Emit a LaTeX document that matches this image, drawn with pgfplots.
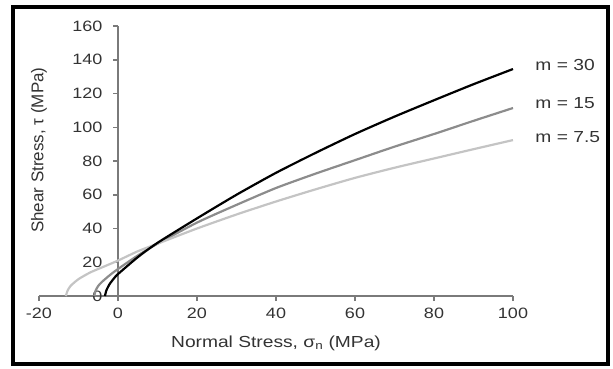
\documentclass[border=0pt]{standalone}
\usepackage{fontspec}
\setmainfont{Liberation Sans}[FakeStretch=1.2]
\newfontfamily\ylabfont{Liberation Sans}
\usepackage{pgfplots}
\pgfplotsset{compat=1.18}
\definecolor{axisgray}{HTML}{7A7A7A}
\definecolor{labelgray}{HTML}{333333}
\definecolor{midgray}{HTML}{8C8C8C}
\definecolor{lightgray}{HTML}{C4C4C4}
\begin{document}
\begin{tikzpicture}
\path[use as bounding box] (0pt,0pt) rectangle (613pt,368pt);
\draw[line width=4pt] (13pt,4pt) rectangle (608pt,361pt);
\begin{axis}[
  at={(39pt,72pt)}, anchor=south west,
  scale only axis, width=474pt, height=270pt,
  xmin=-20, xmax=100, ymin=0, ymax=160,
  axis x line=bottom, axis y line=center,
  hide obscured x ticks=false, hide obscured y ticks=false,
  axis line style={-, draw=axisgray, line width=1.6pt},
  xtick style={draw=axisgray, line width=1.5pt},
  ytick style={draw=axisgray, line width=1.5pt},
  tick align=outside, major tick length=5pt,
  xtick={-20,0,20,40,60,80,100},
  ytick={0,20,40,60,80,100,120,140,160},
  /pgf/number format/assume math mode=true,
  ticklabel style={font=\fontsize{15}{15}\selectfont, text=labelgray},
  xticklabel style={anchor=north, yshift=-3pt},
  yticklabel style={anchor=east, xshift=-7pt},
  xlabel={Normal Stress, σ\textsubscript{n} (MPa)},
  xlabel style={at={(axis description cs:0.5,0)}, anchor=center, yshift=-47pt,
    font=\fontsize{16}{16}\selectfont, text=labelgray},
  ylabel={Shear Stress, τ (MPa)},
  ylabel style={at={(axis description cs:0,0.54)}, anchor=center, rotate=90,
    font=\ylabfont\fontsize{17}{17}\selectfont, text=labelgray},
  clip=false,
]
\addplot[midgray, line width=2.2pt, smooth, tension=0.4] coordinates {
  (-6.0,0) (-5.7,3) (-5.0,6) (-4.0,8.5) (-2.0,12.5) (0,16) (5,24) (10,31)
  (20,43.5) (30,54) (40,64) (50,72.5) (60,80.5) (70,88.5) (80,96) (90,103.8) (100,111.4)
};
\addplot[lightgray, line width=2.2pt, smooth, tension=0.4] coordinates {
  (-13.2,0) (-12.8,3) (-12,6) (-10,10) (-7,14) (-4,17) (0,21) (5,26.5) (10,31)
  (20,40) (30,48.3) (40,56) (50,63.2) (60,70) (70,76) (80,81.5) (90,87) (100,92.4)
};
\addplot[black, line width=2.2pt, smooth, tension=0.4] coordinates {
  (-3.3,0) (-3.0,3) (-2.5,5.5) (-2.0,7.5) (-1.0,10.5) (0,13) (5,23) (10,31.5)
  (20,46) (30,60) (40,73) (50,84.8) (60,96) (70,106.3) (80,116) (90,125.5) (100,134.5)
};
\node[anchor=west, text=labelgray, font=\fontsize{16}{16}\selectfont] at (axis cs:104.8,136.9) {m = 30};
\node[anchor=west, text=labelgray, font=\fontsize{16}{16}\selectfont] at (axis cs:104.8,114.4) {m = 15};
\node[anchor=west, text=labelgray, font=\fontsize{16}{16}\selectfont] at (axis cs:104.8,94.2) {m = 7.5};
\end{axis}
\end{tikzpicture}
\end{document}
